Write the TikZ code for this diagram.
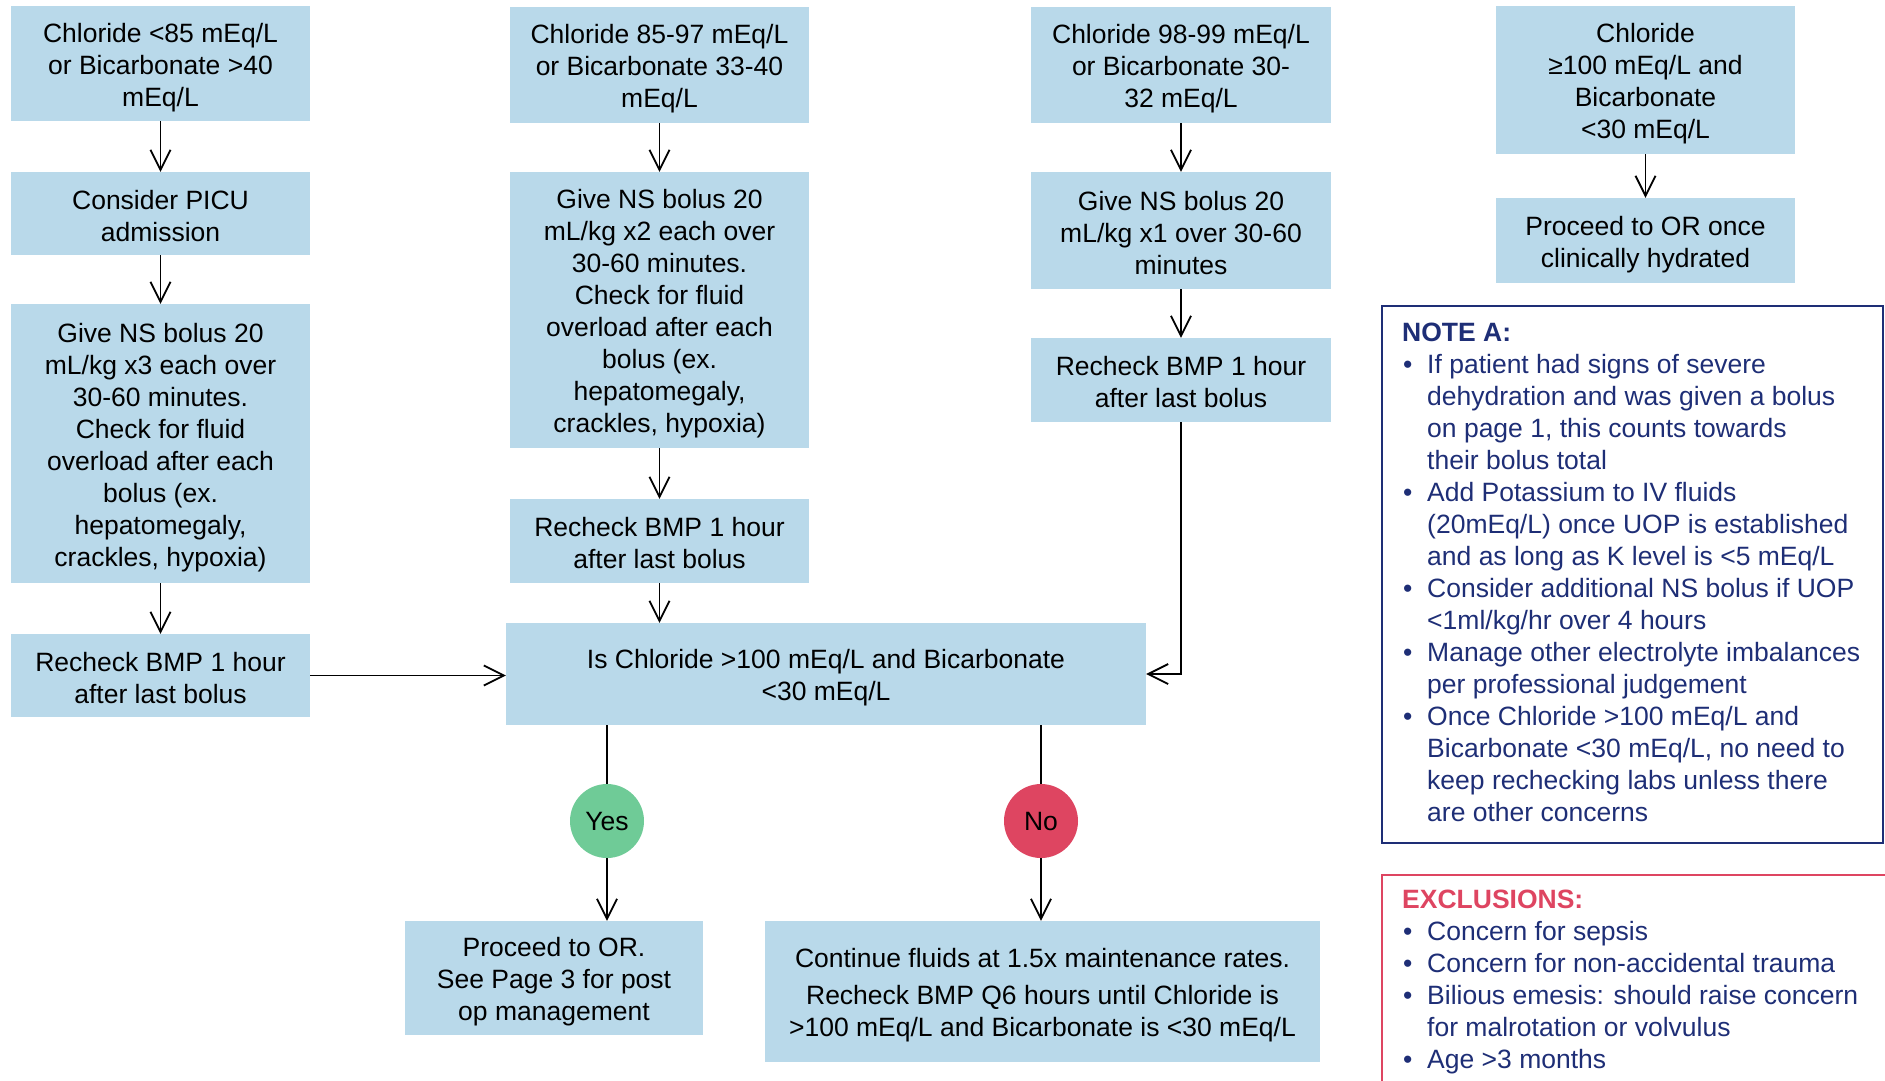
\documentclass[tikz,border=0pt]{standalone}
\usepackage{fontspec}
\setmainfont{Liberation Sans}
\usetikzlibrary{arrows.meta}
\definecolor{boxblue}{RGB}{185,217,234}
\definecolor{navy}{RGB}{30,46,118}
\definecolor{yesgreen}{RGB}{111,203,151}
\definecolor{nored}{RGB}{222,69,97}
\newcommand{\bul}{\makebox[25pt][l]{\hspace{1pt}•}}
\newcommand{\ind}{\hspace*{25pt}}
\newcommand{\tst}{\rule{0pt}{27pt}}
\newcommand{\bst}{\rule[-4pt]{0pt}{4pt}}
\begin{document}
\begin{tikzpicture}[x=1pt,y=-1pt,
  font=\fontsize{26.5}{32}\selectfont,
  fbox/.style={fill=boxblue, align=center, inner sep=0pt, text=black},
  arr/.style={draw=black, line width=1.8pt, -{Straight Barb[length=20pt,width=20pt,line width=1.8pt]}},
  conn/.style={draw=black, line width=1.8pt},
  dot/.style={circle, inner sep=0pt, minimum size=74pt, text=black},
  notefont/.style={font=\fontsize{26.5}{32}\selectfont}]
\useasboundingbox (0,0) rectangle (1885,1080);
\clip (0,0) rectangle (1885,1080);
% column 1
\node[fbox, minimum width=299pt, minimum height=115pt] (b1) at (160.5,63.5) {\tst Chloride <85 mEq/L\\or Bicarbonate >40\\mEq/L\bst};
\node[fbox, minimum width=299pt, minimum height=83pt] (picu) at (160.5,213.5) {\tst Consider PICU\\admission\bst};
\node[fbox, minimum width=299pt, minimum height=279pt] (ns3) at (160.5,443.5) {\tst Give NS bolus 20\\mL/kg x3 each over\\30-60 minutes.\\Check for fluid\\overload after each\\bolus (ex.\\hepatomegaly,\\crackles, hypoxia)\bst};
\node[fbox, minimum width=299pt, minimum height=83pt] (r1) at (160.5,675.5) {\tst Recheck BMP 1 hour\\after last bolus\bst};
% column 2
\node[fbox, minimum width=299pt, minimum height=116pt] (b2) at (659.5,65) {\tst Chloride 85-97 mEq/L\\or Bicarbonate 33-40\\mEq/L\bst};
\node[fbox, minimum width=299pt, minimum height=276pt] (ns2) at (659.5,310) {\tst Give NS bolus 20\\mL/kg x2 each over\\30-60 minutes.\\Check for fluid\\overload after each\\bolus (ex.\\hepatomegaly,\\crackles, hypoxia)\bst};
\node[fbox, minimum width=299pt, minimum height=84pt] (r2) at (659.5,541) {\tst Recheck BMP 1 hour\\after last bolus\bst};
% column 3
\node[fbox, minimum width=300pt, minimum height=116pt] (b3) at (1181,65) {\tst Chloride 98-99 mEq/L\\or Bicarbonate 30-\\32 mEq/L\bst};
\node[fbox, minimum width=300pt, minimum height=117pt] (ns1) at (1181,230.5) {\tst Give NS bolus 20\\mL/kg x1 over 30-60\\minutes\bst};
\node[fbox, minimum width=300pt, minimum height=84pt] (r3) at (1181,380) {\tst Recheck BMP 1 hour\\after last bolus\bst};
% column 4
\node[fbox, minimum width=299pt, minimum height=148pt] (b4) at (1645.5,80) {\tst Chloride\\≥100 mEq/L and\\Bicarbonate\\<30 mEq/L\bst};
\node[fbox, minimum width=299pt, minimum height=85pt] (p4) at (1645.5,240.5) {\tst Proceed to OR once\\clinically hydrated\bst};
% decision
\node[fbox, minimum width=640pt, minimum height=102pt] (dec) at (826,674) {\tst Is Chloride >100 mEq/L and Bicarbonate\\<30 mEq/L\bst};
\node[dot, fill=yesgreen] (yes) at (607,821) {Yes};
\node[dot, fill=nored] (no) at (1041,821) {No};
\node[fbox, minimum width=298pt, minimum height=114pt] (por) at (554,978) {\tst Proceed to OR.\\See Page 3 for post\\op management\bst};
\node[fbox, minimum width=555pt, minimum height=141pt] (cont) at (1042.5,991.5) {\tst Continue fluids at 1.5x maintenance rates.\\[5pt]Recheck BMP Q6 hours until Chloride is\\>100 mEq/L and Bicarbonate is <30 mEq/L\bst};
% connectors
\draw[arr] (b1) -- (picu);
\draw[arr] (picu) -- (ns3);
\draw[arr] (ns3) -- (r1);
\draw[arr] (r1.east) -- (dec.west |- r1.east);
\draw[arr] (b2) -- (ns2);
\draw[arr] (ns2) -- (r2);
\draw[arr] (r2.south) -- (r2.south |- dec.north);
\draw[arr] (b3) -- (ns1);
\draw[arr] (ns1) -- (r3);
\draw[arr] (r3.south) |- (dec.east);
\draw[arr] (b4) -- (p4);
\draw[conn] (yes.north |- dec.south) -- (yes.north);
\draw[arr] (yes.south) -- (yes.south |- por.north);
\draw[conn] (no.north |- dec.south) -- (no.north);
\draw[arr] (no.south) -- (no.south |- cont.north);
% note A
\node[draw=navy, line width=1.5pt, minimum width=501pt, minimum height=537pt, anchor=north west, inner sep=0pt] (notebox) at (1381,305) {};
\node[anchor=north west, align=left, text=navy, inner sep=0pt, notefont] (notetext) at (1402,322.5) {\textbf{NOTE A:}\\
\bul If patient had signs of severe\\
\ind dehydration and was given a bolus\\
\ind on page 1, this counts towards\\
\ind their bolus total\\
\bul Add Potassium to IV fluids\\
\ind (20mEq/L) once UOP is established\\
\ind and as long as K level is <5 mEq/L\\
\bul Consider additional NS bolus if UOP\\
\ind <1ml/kg/hr over 4 hours\\
\bul Manage other electrolyte imbalances\\
\ind per professional judgement\\
\bul Once Chloride >100 mEq/L and\\
\ind Bicarbonate <30 mEq/L, no need to\\
\ind keep rechecking labs unless there\\
\ind are other concerns};
% exclusions
\node[draw=nored, line width=1.5pt, minimum width=520pt, minimum height=260pt, anchor=north west, inner sep=0pt] (exbox) at (1381,874) {};
\node[anchor=north west, align=left, text=navy, inner sep=0pt, notefont] (extext) at (1402,889.5) {\textcolor{nored}{\textbf{EXCLUSIONS:}}\\
\bul Concern for sepsis\\
\bul Concern for non-accidental trauma\\
\bul Bilious emesis: should raise concern\\
\ind for malrotation or volvulus\\
\bul Age >3 months};
\end{tikzpicture}
\end{document}
